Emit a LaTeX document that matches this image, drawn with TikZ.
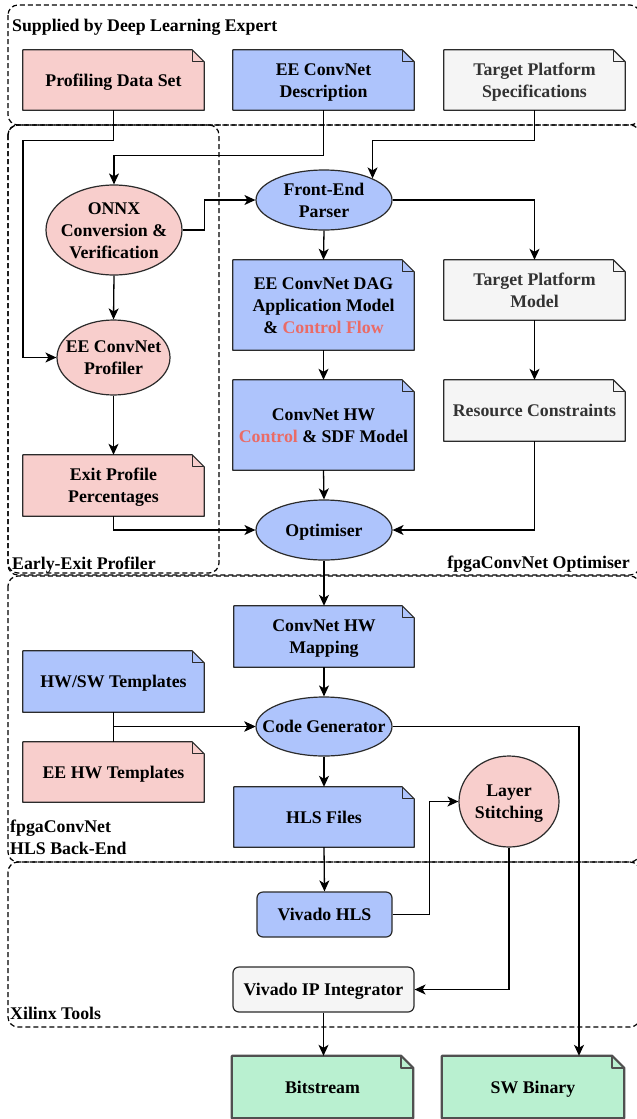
\documentclass[tikz,border=0pt]{standalone}
\usepackage{fontspec}
\setmainfont{Liberation Serif}
\usetikzlibrary{shapes.geometric,arrows.meta}

\pgfdeclarelayer{paper}
\pgfdeclarelayer{notes}
\pgfsetlayers{paper,notes,main}

\definecolor{pinkfill}{HTML}{F8CECC}
\definecolor{bluefill}{HTML}{AEC4FC}
\definecolor{greyfill}{HTML}{F5F5F5}
\definecolor{greenfill}{HTML}{B9F0D0}
\definecolor{greytext}{HTML}{333333}
\definecolor{ctrl}{HTML}{EA6B66}
\definecolor{edge}{HTML}{2B2B2B}
\definecolor{greenedge}{HTML}{505050}

% uniform line box so every text line is centred on its line height
\newcommand\lnstrut{\rule[-5pt]{0pt}{22pt}}

\tikzset{
  base/.style={font=\fontsize{17.8}{22}\selectfont\bfseries, align=center, inner sep=0pt},
  notebox/.style={base, minimum width=181pt, minimum height=60pt},
  ellbox/.style={ellipse, draw=edge, line width=1.2pt, inner sep=0pt},
  roundbox/.style={base, rectangle, rounded corners=6pt, draw=edge, line width=1.2pt},
  conn/.style={draw=black, line width=1.3pt, -{Stealth[length=11pt,width=10pt,inset=3pt]}},
  cont/.style={draw=black, line width=1.2pt, dash pattern=on 5pt off 3pt, rounded corners=10pt},
  contlabel/.style={base, inner sep=0pt},
}

% folded-corner document outline behind a named node
\newcommand\foldoutline[4]{% node, fill, stroke, stroke width
  \begin{pgfonlayer}{notes}
    \filldraw[draw=#3, fill=#2, line width=#4, line join=round]
      (#1.north west) -- ([xshift=-12pt]#1.north east) -- ([yshift=-12pt]#1.north east)
      -- (#1.south east) -- (#1.south west) -- cycle;
    \draw[draw=#3, line width=#4, line join=round]
      ([xshift=-12pt]#1.north east) -- ([xshift=-12pt,yshift=-12pt]#1.north east)
      -- ([yshift=-12pt]#1.north east);
  \end{pgfonlayer}}
\newcommand\notefold[2]{\foldoutline{#1}{#2}{edge}{1.2pt}}
\newcommand\greenfold[1]{\foldoutline{#1}{greenfill}{greenedge}{2.2pt}}

\begin{document}
\begin{tikzpicture}[x=1pt, y=-1pt]
\clip (0,0) rectangle (637,1119);
\begin{pgfonlayer}{paper}
  \fill[white] (0,0) rectangle (637,1119);
\end{pgfonlayer}

% ---- grouping frames ----
\draw[cont] (8,5) rectangle (640,125);
\draw[cont] (8,125) rectangle (640,575);
\draw[cont] (8,125) rectangle (219,573);
\draw[cont] (8,576) rectangle (640,862);
\draw[cont] (8,862) rectangle (640,1027);

\node[contlabel, anchor=west] (lblsup) at (12,25) {\lnstrut Supplied by Deep Learning Expert};
\node[contlabel, anchor=west] (lblee) at (12,563) {\lnstrut Early-Exit Profiler};
\node[contlabel, anchor=east] (lblopt) at (630,562) {\lnstrut fpgaConvNet Optimiser};
\node[contlabel, anchor=west, align=left] (lblhls) at (10,837) {\lnstrut fpgaConvNet\\\lnstrut HLS Back-End};
\node[contlabel, anchor=west] (lblxil) at (10,1013) {\lnstrut Xilinx Tools};

% ---- inputs ----
\node[notebox] (pds) at (113.5,80) {\lnstrut Profiling Data Set};
\notefold{pds}{pinkfill}
\node[notebox] (eed) at (323.5,80) {\lnstrut EE ConvNet\\\lnstrut Description};
\notefold{eed}{bluefill}
\node[notebox, text=greytext] (tps) at (534.5,80) {\lnstrut Target Platform\\\lnstrut Specifications};
\notefold{tps}{greyfill}

% ---- early-exit profiler ----
\node[ellbox, fill=pinkfill, minimum width=136pt, minimum height=90pt] (onnx) at (114,230) {};
\node[base] (onnxT) at (onnx) {\lnstrut ONNX\\\lnstrut Conversion \&\\\lnstrut Verification};
\node[ellbox, fill=pinkfill, minimum width=113pt, minimum height=75pt] (prof) at (113.5,357.5) {};
\node[base] (profT) at (prof) {\lnstrut EE ConvNet\\\lnstrut Profiler};
\node[notebox, minimum height=61pt] (epp) at (113.5,485.5) {\lnstrut Exit Profile\\\lnstrut Percentages};
\notefold{epp}{pinkfill}

% ---- optimiser ----
\node[ellbox, fill=bluefill, minimum width=136pt, minimum height=60pt] (fep) at (324,200) {};
\node[base] (fepT) at (fep) {\lnstrut Front-End\\\lnstrut Parser};
\node[notebox, minimum height=90pt] (dag) at (323.5,305) {\lnstrut EE ConvNet DAG\\\lnstrut Application Model\\\lnstrut\& \textcolor{ctrl}{Control Flow}};
\notefold{dag}{bluefill}
\node[notebox, minimum height=90pt] (chw) at (323.5,425) {\lnstrut ConvNet HW\\\lnstrut\textcolor{ctrl}{Control} \& SDF Model};
\notefold{chw}{bluefill}
\node[ellbox, fill=bluefill, minimum width=136pt, minimum height=60pt] (opt) at (324,530) {};
\node[base] (optT) at (opt) {\lnstrut Optimiser};
\node[notebox, text=greytext] (tpm) at (534.5,290) {\lnstrut Target Platform\\\lnstrut Model};
\notefold{tpm}{greyfill}
\node[notebox, text=greytext, minimum height=61pt] (rc) at (534.5,410.5) {\lnstrut Resource Constraints};
\notefold{rc}{greyfill}

% ---- HLS back-end ----
\node[notebox, minimum width=180pt, minimum height=61pt] (map) at (324,636.5) {\lnstrut ConvNet HW\\\lnstrut Mapping};
\notefold{map}{bluefill}
\node[notebox, minimum height=61pt] (hwsw) at (113.5,681.5) {\lnstrut HW/SW Templates};
\notefold{hwsw}{bluefill}
\node[notebox] (eehw) at (113.5,772) {\lnstrut EE HW Templates};
\notefold{eehw}{pinkfill}
\node[ellbox, fill=bluefill, minimum width=136pt, minimum height=59pt] (cg) at (324,726.5) {};
\node[base] (cgT) at (cg) {\lnstrut Code Generator};
\node[notebox, minimum width=180pt] (hls) at (324,817) {\lnstrut HLS Files};
\notefold{hls}{bluefill}
\node[ellbox, fill=pinkfill, minimum width=100pt, minimum height=91pt] (ls) at (509,801.5) {};
\node[base] (lsT) at (ls) {\lnstrut Layer\\\lnstrut Stitching};

% ---- Xilinx tools ----
\node[roundbox, fill=bluefill, minimum width=135pt, minimum height=45pt] (vhls) at (324.5,914.5) {\lnstrut Vivado HLS};
\node[roundbox, fill=greyfill, minimum width=181pt, minimum height=45pt] (vip) at (323.5,989.5) {\lnstrut Vivado IP Integrator};

% ---- outputs ----
\node[notebox, minimum height=62pt] (bit) at (322.5,1087) {\lnstrut Bitstream};
\greenfold{bit}
\node[notebox, minimum width=182pt, minimum height=62pt] (swb) at (533,1087) {\lnstrut SW Binary};
\greenfold{swb}

% ---- connectors ----
\draw[conn] (pds.south) -- ++(0,30) -| (23,357.5) -- (prof.west);
\draw[conn] (eed.south) -- ++(0,45) -| (onnx.north);
\draw[conn] (tps.south) -- ++(0,30) -| (fep.24);
\draw[conn] (onnx.east) -- ++(22,0) |- (fep.west);
\draw[conn] (fep.south) -- (dag.north);
\draw[conn] (fep.east) -| (tpm.north);
\draw[conn] (dag.south) -- (chw.north);
\draw[conn] (chw.south) -- (opt.north);
\draw[conn] (onnx.south) -- (prof.north);
\draw[conn] (prof.south) -- (epp.north);
\draw[conn] (epp.south) |- (opt.west);
\draw[conn] (tpm.south) -- (rc.north);
\draw[conn] (rc.south) |- (opt.east);
\draw[conn] (opt.south) -- (map.north);
\draw[conn] (map.south) -- (cg.north);
\draw[conn] (hwsw.south) |- (cg.west);
\draw[conn] (eehw.north) |- (cg.west);
\draw[conn] (cg.south) -- (hls.north);
\draw[conn] (cg.east) -| ([xshift=46pt]swb.north);
\draw[conn] (hls.south) -- (vhls.north);
\draw[conn] (vhls.east) -- ++(37,0) |- (ls.west);
\draw[conn] (ls.south) |- (vip.east);
\draw[conn] (vip.south) -- (vip.south |- bit.north);
\end{tikzpicture}
\end{document}
